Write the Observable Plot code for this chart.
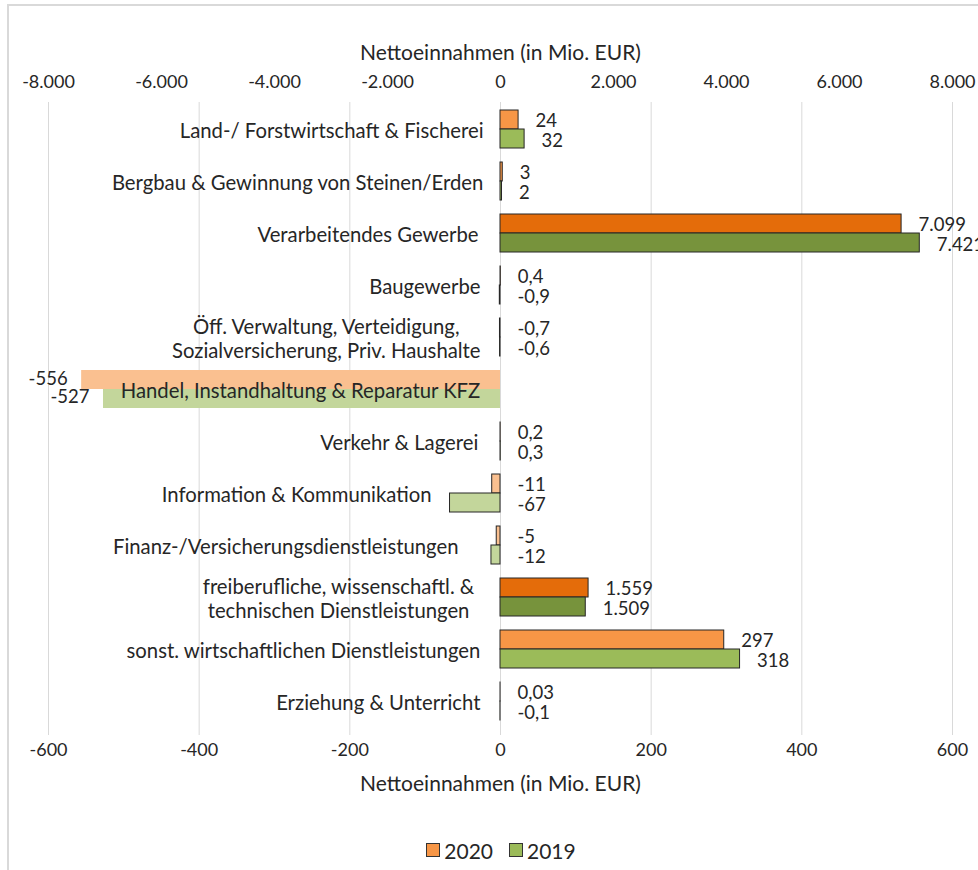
<!DOCTYPE html>
<html><head><meta charset="utf-8">
<script src="https://cdn.jsdelivr.net/npm/d3@7"></script>
<script src="https://cdn.jsdelivr.net/npm/@observablehq/plot@0.6"></script>
<style>
body{margin:0;background:#fff;font-family:Lato,"Liberation Sans",sans-serif;}
#wrap{position:relative;width:978px;height:870px;overflow:hidden;background:#fff;}
#border{position:absolute;left:7px;top:4px;width:1000px;height:900px;border-top:2px solid #D9D9D9;border-left:2px solid #D9D9D9;}
#chart{position:absolute;left:0;top:0;}
#legend{position:absolute;left:12px;top:830px;width:978px;height:40px;display:flex;justify-content:center;align-items:center;font-size:21px;color:#262626;}
.item{display:flex;align-items:center;margin:0 8px;}
.sw{width:12px;height:12px;border:1px solid #333;margin-right:4px;}
</style></head>
<body>
<div id="wrap"><div id="border"></div><div id="chart"></div><div id="legend"></div></div>
<script>
const categories = [
  "Land-/ Forstwirtschaft & Fischerei",
  "Bergbau & Gewinnung von Steinen/Erden",
  "Verarbeitendes Gewerbe",
  "Baugewerbe",
  "Öff. Verwaltung, Verteidigung, Sozialversicherung, Priv. Haushalte",
  "Handel, Instandhaltung & Reparatur KFZ",
  "Verkehr & Lagerei",
  "Information & Kommunikation",
  "Finanz-/Versicherungsdienstleistungen",
  "freiberufliche, wissenschaftl. & technischen Dienstleistungen",
  "sonst. wirtschaftlichen Dienstleistungen",
  "Erziehung & Unterricht"
];
const categoryLabels = [
  "Land-/ Forstwirtschaft & Fischerei",
  "Bergbau & Gewinnung von Steinen/Erden",
  "Verarbeitendes Gewerbe",
  "Baugewerbe",
  "Öff. Verwaltung, Verteidigung,\nSozialversicherung, Priv. Haushalte",
  "Handel, Instandhaltung & Reparatur KFZ",
  "Verkehr & Lagerei",
  "Information & Kommunikation",
  "Finanz-/Versicherungsdienstleistungen",
  "freiberufliche, wissenschaftl. &\ntechnischen Dienstleistungen",
  "sonst. wirtschaftlichen Dienstleistungen",
  "Erziehung & Unterricht"
];
const values2020 = [24, 3, 7099, 0.4, -0.7, -556, 0.2, -11, -5, 1559, 297, 0.03];
const values2019 = [32, 2, 7421, -0.9, -0.6, -527, 0.3, -67, -12, 1509, 318, -0.1];
// which axis each category is drawn against (top: -8.000..8.000, bottom: -600..600)
const axisOf = ["bottom","bottom","top","bottom","bottom","bottom","bottom","bottom","bottom","top","bottom","bottom"];
const years = ["2020", "2019"];
const topTicks = [-8000, -6000, -4000, -2000, 0, 2000, 4000, 6000, 8000];
const bottomTicks = [-600, -400, -200, 0, 200, 400, 600];
const axisTitle = "Nettoeinnahmen (in Mio. EUR)";

// ---- styling (not data) ----
const palette = {
  "2020": {dark: "#E46C0A", mid: "#F79646", light: "#FAC090"},
  "2019": {dark: "#77933C", mid: "#9BBB59", light: "#C3D69B"}
};
const noBorder = new Set(["Handel, Instandhaltung & Reparatur KFZ"]);
const labelGap = {"Information & Kommunikation": 69, "Finanz-/Versicherungsdienstleistungen": 42,
  "freiberufliche, wissenschaftl. & technischen Dienstleistungen": 26, "Land-/ Forstwirtschaft & Fischerei": 17,
  "Bergbau & Gewinnung von Steinen/Erden": 17, "Verarbeitendes Gewerbe": 22, "Verkehr & Lagerei": 22};
const FONT = "Lato, 'Liberation Sans', sans-serif";
const FS_CAT = 20.3, FS_VAL = 18.5, FS_TICK = 18, FS_TITLE = 21;
const INK = "#262626";
const ratio = 600 / 8000;

const locale = d3.formatLocale({decimal: ",", thousands: ".", grouping: [3], currency: ["", " €"], minus: "-"});
const fmt = locale.format(",~g");
const fmtTick = locale.format(",");

const rows = years.map(year => categories.map((cat, i) => {
  const value = (year === "2020" ? values2020 : values2019)[i];
  const axis = axisOf[i];
  return {cat, year, value, axis, x: axis === "top" ? value * ratio : value};
}));
const colorOf = d => {
  const p = palette[d.year];
  return d.axis === "top" ? p.dark : d.value < 0 ? p.light : p.mid;
};

// measure for centered multi-line labels
const ctx = document.createElement("canvas").getContext("2d");
ctx.font = `${FS_CAT}px ${FONT}`;

const labelMarks = categories.map((cat, i) => {
  const lines = categoryLabels[i].split("\n");
  const w = Math.max(...lines.map(l => ctx.measureText(l).width));
  const gap = labelGap[cat] ?? 20;
  return Plot.text([cat], {
    x: () => 0, y: d => d, text: () => categoryLabels[i],
    textAnchor: "middle", dx: -(gap + w / 2), dy: 1, lineHeight: 1.16,
    fontSize: FS_CAT, fill: INK
  });
});

const barMarks = rows.map((data, k) => Plot.barX(data, {
  x1: () => 0, x2: "x", y: "cat",
  fill: colorOf,
  stroke: d => noBorder.has(d.cat) ? "none" : INK,
  strokeWidth: 1,
  insetTop: k === 0 ? 7 : 26, insetBottom: k === 0 ? 26 : 7
}));

const valueMarks = rows.flatMap((data, k) => [
  Plot.text(data.filter(d => !noBorder.has(d.cat)), {
    x: d => Math.max(d.x, 0), y: "cat", text: d => fmt(d.value),
    dx: 17, dy: k === 0 ? -8 : 12, textAnchor: "start", fontSize: FS_VAL, fill: INK
  }),
  Plot.text(data.filter(d => noBorder.has(d.cat)), {
    x: "x", y: "cat", text: d => fmt(d.value),
    dx: -14, dy: k === 0 ? -10 : 8, textAnchor: "end", fontSize: FS_VAL, fill: INK
  })
]);

const plot = Plot.plot({
  width: 978, height: 830,
  marginTop: 102, marginBottom: 95, marginLeft: 48, marginRight: 26,
  style: {fontFamily: FONT, fontSize: FS_CAT + "px", background: "transparent", overflow: "hidden"},
  x: {domain: [-600, 600], axis: null},
  y: {type: "band", domain: categories, range: [102, 727], padding: 0, axis: null},
  color: {type: "identity"},
  marks: [
    Plot.ruleX(bottomTicks, {stroke: "#D9D9D9", strokeWidth: 1}),
    ...barMarks,
    ...labelMarks,
    ...valueMarks,
    Plot.text(topTicks, {x: d => d * ratio, frameAnchor: "top", dy: -27, text: d => fmtTick(d), fontSize: FS_TICK, fill: INK}),
    Plot.text([axisTitle], {x: () => 0, frameAnchor: "top", dy: -57, text: d => d, fontSize: FS_TITLE, fill: INK}),
    Plot.text(bottomTicks, {x: d => d, frameAnchor: "bottom", dy: 20, text: d => fmtTick(d), fontSize: FS_TICK, fill: INK}),
    Plot.text([axisTitle], {x: () => 0, frameAnchor: "bottom", dy: 55, text: d => d, fontSize: FS_TITLE, fill: INK})
  ]
});
document.getElementById("chart").appendChild(plot);

const legend = document.getElementById("legend");
years.forEach(y => {
  const it = document.createElement("div"); it.className = "item";
  const sw = document.createElement("div"); sw.className = "sw"; sw.style.background = palette[y].mid;
  const t = document.createElement("span"); t.textContent = y;
  it.appendChild(sw); it.appendChild(t); legend.appendChild(it);
});
</script>
</body></html>
